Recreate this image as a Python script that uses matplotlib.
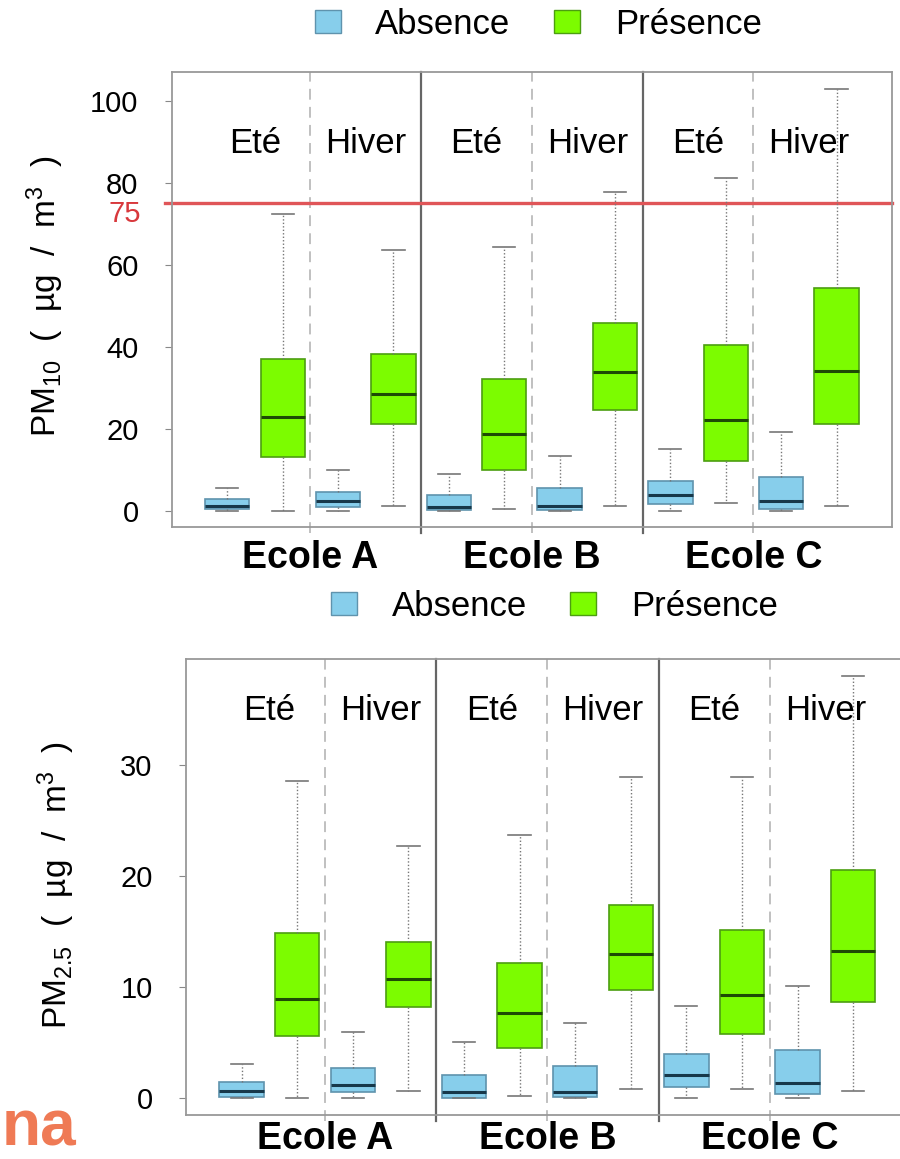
import matplotlib
matplotlib.use("Agg")
import matplotlib.pyplot as plt
from matplotlib.patches import Patch

plt.rcParams['font.family'] = ['Liberation Sans', 'DejaVu Sans']
plt.rcParams['mathtext.fontset'] = 'custom'
plt.rcParams['mathtext.rm'] = 'Liberation Sans'
plt.rcParams['mathtext.it'] = 'Liberation Sans:italic'

# groups in order: Ecole A Ete, Ecole A Hiver, Ecole B Ete, ...
schools = ['Ecole A', 'Ecole B', 'Ecole C']
seasons = ['Eté', 'Hiver']
legend_labels = ['Absence', 'Présence']

# PM10 - absence
pm10_abs_lo  = [0.0, 0.0, 0.0, 0.0, 0.0, 0.0]
pm10_abs_q1  = [0.3, 0.9, 0.2, 0.2, 1.5, 0.3]
pm10_abs_med = [1.1, 2.4, 0.9, 1.0, 3.7, 2.3]
pm10_abs_q3  = [2.8, 4.6, 3.9, 5.6, 7.2, 8.3]
pm10_abs_hi  = [5.5, 10.0, 8.9, 13.4, 15.0, 19.1]
# PM10 - presence
pm10_pre_lo  = [0.0, 1.0, 0.4, 1.0, 1.9, 1.0]
pm10_pre_q1  = [13.1, 21.1, 9.8, 24.5, 12.2, 21.2]
pm10_pre_med = [22.8, 28.5, 18.8, 33.8, 22.0, 34.1]
pm10_pre_q3  = [36.9, 38.1, 32.0, 45.9, 40.5, 54.3]
pm10_pre_hi  = [72.4, 63.7, 64.4, 77.7, 81.1, 102.9]
pm10_limit = 75

# PM2.5 - absence
pm25_abs_lo  = [0.0, 0.0, 0.0, 0.0, 0.0, 0.0]
pm25_abs_q1  = [0.15, 0.54, 0.0, 0.12, 0.99, 0.39]
pm25_abs_med = [0.63, 1.23, 0.6, 0.6, 2.06, 1.4]
pm25_abs_q3  = [1.5, 2.7, 2.06, 2.9, 3.98, 4.36]
pm25_abs_hi  = [3.1, 6.0, 5.05, 6.8, 8.3, 10.1]
# PM2.5 - presence
pm25_pre_lo  = [0.0, 0.63, 0.18, 0.84, 0.84, 0.63]
pm25_pre_q1  = [5.6, 8.2, 4.5, 9.7, 5.83, 8.67]
pm25_pre_med = [8.9, 10.76, 7.7, 13.0, 9.3, 13.27]
pm25_pre_q3  = [14.9, 14.05, 12.2, 17.4, 15.1, 20.5]
pm25_pre_hi  = [28.5, 22.7, 23.7, 28.9, 28.9, 38.0]

abs_color, abs_edge, abs_med = '#87CEEB', '#5f93ad', '#17384a'
pre_color, pre_edge, pre_med = '#7CFC00', '#4c9e10', '#1e4a05'


def make_stats(lo, q1, med, q3, hi):
    return [dict(whislo=a, q1=b, med=c, q3=d, whishi=e, fliers=[])
            for a, b, c, d, e in zip(lo, q1, med, q3, hi)]


def draw_boxes(ax, stats, positions, face, edge, medc):
    ax.bxp(stats, positions=positions, widths=0.8, patch_artist=True,
           showfliers=False,
           boxprops=dict(facecolor=face, edgecolor=edge, linewidth=1.2),
           medianprops=dict(color=medc, linewidth=2.2),
           whiskerprops=dict(color='#777777', linewidth=1, linestyle=(0, (1, 1.5))),
           capprops=dict(color='#777777', linewidth=1.2))


def panel(ax, abs_stats, pre_stats, ylim, yticks, season_y, xpad):
    n = len(abs_stats)
    abs_pos = [2 * i + 1 for i in range(n)]
    pre_pos = [2 * i + 2 for i in range(n)]
    draw_boxes(ax, abs_stats, abs_pos, abs_color, abs_edge, abs_med)
    draw_boxes(ax, pre_stats, pre_pos, pre_color, pre_edge, pre_med)
    ax.set_xlim(0, 2 * n + 1)
    ax.set_ylim(*ylim)
    # separators between seasons (dashed) and schools (solid)
    for k in range(n):
        x = 2 * k + 2.5
        if k % 2 == 0:
            ax.axvline(x, ymin=-0.012, color='#bbbbbb', lw=1.3, ls=(0, (6, 4)), clip_on=False, zorder=0)
        elif k < n - 1:
            ax.axvline(x, ymin=-0.012, color='#666666', lw=1.6, clip_on=False, zorder=0)
    for k in range(n):
        ax.text(2 * k + 1.5, season_y, seasons[k % 2], ha='center', va='center', fontsize=25)
    ax.set_xticks([4 * i + 2.5 for i in range(len(schools))])
    ax.set_xticklabels(schools, fontsize=27, fontweight='bold')
    ax.tick_params(axis='x', length=0, pad=xpad)
    ax.set_yticks(yticks)
    ax.set_yticklabels([str(t) for t in yticks])
    ax.tick_params(axis='y', length=5, color='#888888', pad=19, labelsize=21)
    for s in ax.spines.values():
        s.set_color('#999999')
        s.set_linewidth(1.3)


fig = plt.figure(figsize=(9, 11.59), dpi=100)

ax1 = fig.add_axes([0.191, 0.545, 0.8, 0.393])
panel(ax1, make_stats(pm10_abs_lo, pm10_abs_q1, pm10_abs_med, pm10_abs_q3, pm10_abs_hi),
      make_stats(pm10_pre_lo, pm10_pre_q1, pm10_pre_med, pm10_pre_q3, pm10_pre_hi),
      (-4.1, 107.1), [0, 20, 40, 60, 80, 100], 89.6, 9)
ax1.axhline(pm10_limit, xmin=-0.01, color='#e05558', lw=2.4, clip_on=False, zorder=1)
ax1.annotate(str(pm10_limit), xy=(0, pm10_limit), xycoords=ax1.get_yaxis_transform(),
             xytext=(-31, -11), textcoords='offset pixels', ha='right', va='center',
             fontsize=21, color='#d8383c')

ax2 = fig.add_axes([0.2067, 0.0377, 0.803, 0.3937])
panel(ax2, make_stats(pm25_abs_lo, pm25_abs_q1, pm25_abs_med, pm25_abs_q3, pm25_abs_hi),
      make_stats(pm25_pre_lo, pm25_pre_q1, pm25_pre_med, pm25_pre_q3, pm25_pre_hi),
      (-1.52, 39.5), [0, 10, 20, 30], 34.9, 4)

fig.text(0.05, 0.744, r'PM$_{10}$  (  µg  /  m$^{3}$  )', rotation=90, ha='center', va='center', fontsize=24)
fig.text(0.063, 0.236, r'PM$_{2.5}$  (  µg  /  m$^{3}$  )', rotation=90, ha='center', va='center', fontsize=24)

handles = [Patch(facecolor=abs_color, edgecolor=abs_edge), Patch(facecolor=pre_color, edgecolor=pre_edge)]
for yc, xc in [(0.979, 0.598), (0.477, 0.616)]:
    fig.legend(handles, legend_labels, loc='center', bbox_to_anchor=(xc, yc), ncol=2,
               frameon=False, fontsize=25, handlelength=0.75, handleheight=0.65,
               handletextpad=1.0, columnspacing=1.25)

# watermark fragment at bottom left
fig.text(0.002, 0.0, 'na', ha='left', va='bottom', fontsize=46, fontweight='bold', color='#ef7a55')

fig.savefig('out.png', dpi=100)
